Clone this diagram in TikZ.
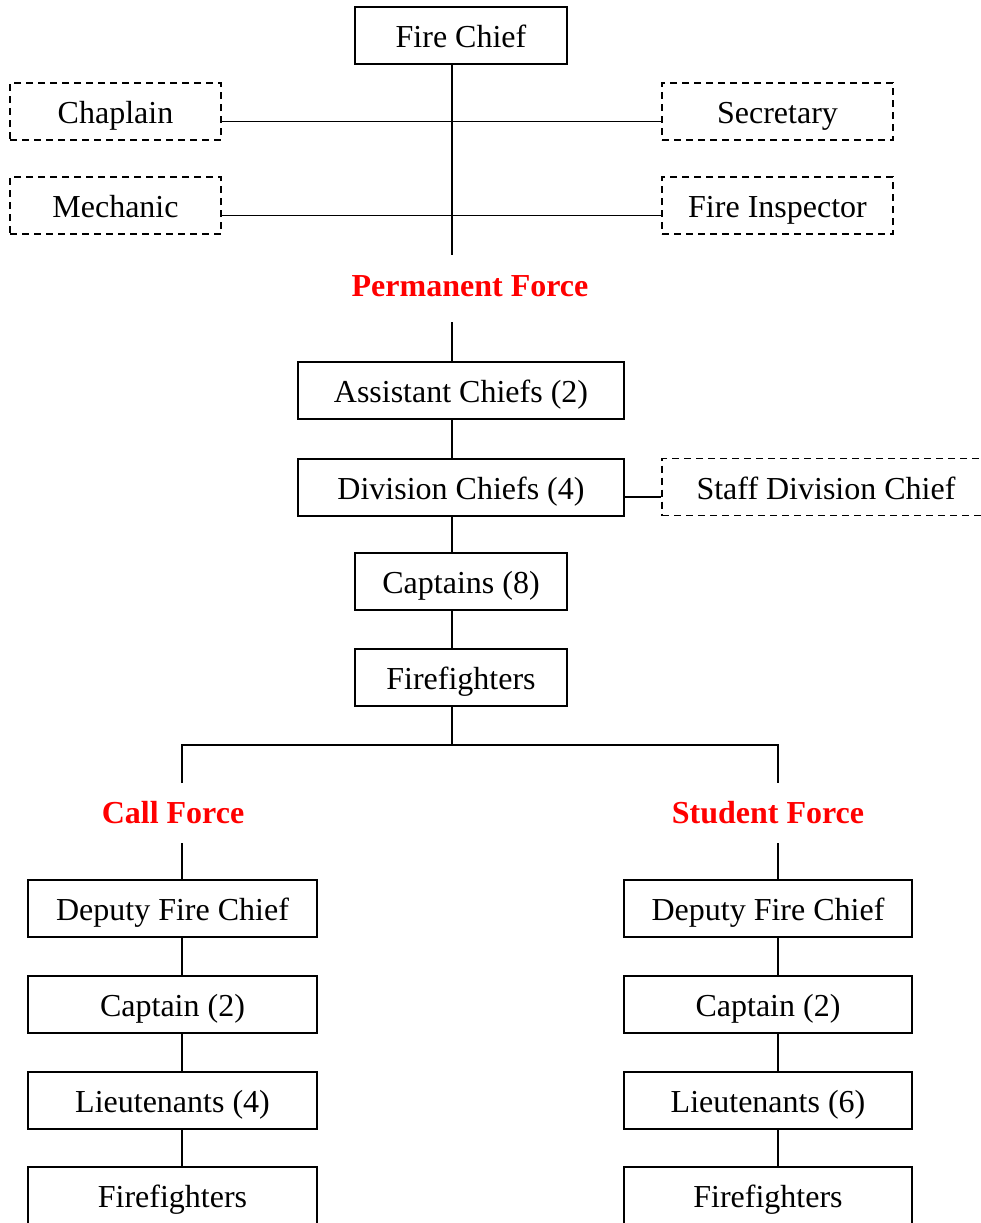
\documentclass[tikz,border=0pt]{standalone}
\usepackage{fontspec}
\setmainfont{Liberation Serif}
\definecolor{forcered}{RGB}{255,0,0}
\begin{document}
\begin{tikzpicture}[x=1pt,y=-1pt,
  every node/.style={font=\fontsize{32}{38}\selectfont},
  solidbox/.style={draw,line width=2pt,rectangle,inner sep=0pt,minimum height=57pt,text height=24pt,text depth=0pt},
  dashbox/.style={draw,line width=1.8pt,dash pattern=on 7pt off 5pt,rectangle,inner sep=0pt,minimum height=57pt,text height=24pt,text depth=0pt},
  forcelabel/.style={text=forcered,font=\fontsize{32}{38}\selectfont\bfseries,inner sep=0pt},
  link/.style={line width=1.5pt}]
\useasboundingbox (0,0) rectangle (981,1223);
\clip (0,0) rectangle (981,1223);
% top part
\node[solidbox,minimum width=212pt] (fc) at (461,36) {Fire Chief};
\node[dashbox,minimum width=211pt] (chap) at (115.5,111.5) {Chaplain};
\node[dashbox,minimum width=231pt] (sec) at (777.5,111.5) {Secretary};
\node[dashbox,minimum width=211pt] (mech) at (115.5,205.5) {Mechanic};
\node[dashbox,minimum width=231pt] (insp) at (777.5,205.5) {Fire Inspector};
\coordinate (sp) at (452,255);
\draw[link] (fc.south -| sp) -- (sp);
\draw[link] ([yshift=-10pt]chap.east) -- ([yshift=-10pt]sec.west);
\draw[link] ([yshift=-10pt]mech.east) -- ([yshift=-10pt]insp.west);
% permanent force
\node[forcelabel] (pf) at (470,286) {Permanent Force};
\coordinate (pfb) at (452,322);
\node[solidbox,minimum width=326pt] (ac) at (461,390) {Assistant Chiefs (2)};
\node[solidbox,minimum width=326pt] (dc) at (461,487) {Division Chiefs (4)};
\node[dashbox,minimum width=328pt] (sdc) at (826,487) {Staff Division Chief};
\node[solidbox,minimum width=212pt] (cap) at (461,581.5) {Captains (8)};
\node[solidbox,minimum width=212pt] (ff) at (461,677.5) {Firefighters};
\draw[link] (pfb) -- (ac.north -| pfb);
\draw[link] (ac.south -| pfb) -- (dc.north -| pfb);
\draw[link] ([yshift=-10pt]dc.east) -- ([yshift=-10pt]sdc.west);
\draw[link] (dc.south -| pfb) -- (cap.north -| pfb);
\draw[link] (cap.south -| pfb) -- (ff.north -| pfb);
\coordinate (fork) at (452,745);
\coordinate (cft) at (182,783);
\coordinate (sft) at (778,783);
\draw[link] (ff.south -| fork) -- (fork);
\draw[link] (cft) -- (cft |- fork) -- (sft |- fork) -- (sft);
% call force
\node[forcelabel] (cf) at (173,813) {Call Force};
\coordinate (cfb) at (182,843);
\node[solidbox,minimum width=289pt] (cdf) at (172.5,908.5) {Deputy Fire Chief};
\node[solidbox,minimum width=289pt] (ccap) at (172.5,1004.5) {Captain (2)};
\node[solidbox,minimum width=289pt] (clt) at (172.5,1100) {Lieutenants (4)};
\node[solidbox,minimum width=289pt] (cff) at (172.5,1195.5) {Firefighters};
\draw[link] (cfb) -- (cdf.north -| cfb);
\draw[link] (cdf.south -| cfb) -- (ccap.north -| cfb);
\draw[link] (ccap.south -| cfb) -- (clt.north -| cfb);
\draw[link] (clt.south -| cfb) -- (cff.north -| cfb);
% student force
\node[forcelabel] (sf) at (768,813) {Student Force};
\coordinate (sfb) at (778,843);
\node[solidbox,minimum width=288pt] (sdf) at (768,908.5) {Deputy Fire Chief};
\node[solidbox,minimum width=288pt] (scap) at (768,1004.5) {Captain (2)};
\node[solidbox,minimum width=288pt] (slt) at (768,1100) {Lieutenants (6)};
\node[solidbox,minimum width=288pt] (sff) at (768,1195.5) {Firefighters};
\draw[link] (sfb) -- (sdf.north -| sfb);
\draw[link] (sdf.south -| sfb) -- (scap.north -| sfb);
\draw[link] (scap.south -| sfb) -- (slt.north -| sfb);
\draw[link] (slt.south -| sfb) -- (sff.north -| sfb);
\end{tikzpicture}
\end{document}
